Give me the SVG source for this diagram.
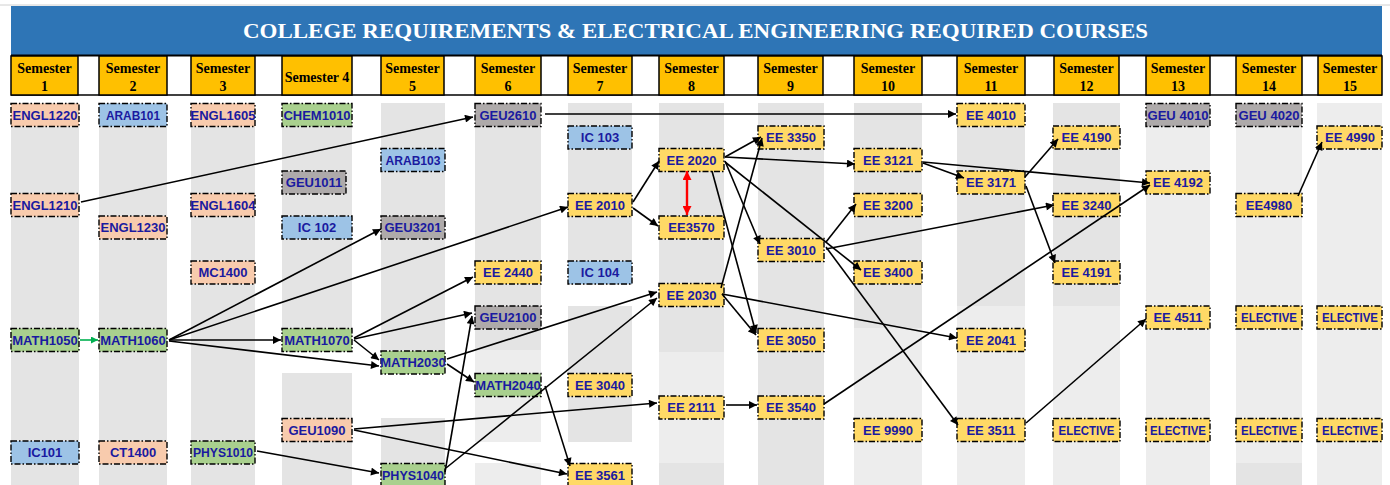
<svg xmlns="http://www.w3.org/2000/svg" width="1390" height="485" viewBox="0 0 1390 485">
<style>
.bg{fill:#ffffff}
.sd{fill:#E4E4E4}
.sl{fill:#EDEDED}
.hd{fill:#FFC000;stroke:#000;stroke-width:1.5}
.ht{font-family:"Liberation Serif",serif;font-weight:bold;font-size:14px;fill:#000;text-anchor:middle}
.b{stroke:#000;stroke-width:1.4;stroke-dasharray:6 2 1.5 2}
.pe{fill:#F8CBAD}.bl{fill:#9DC3E6}.gr{fill:#A9D08E}.gy{fill:#AEAAAA}.ye{fill:#FFD966}
.t{font-family:"Liberation Sans",Arial,sans-serif;font-weight:bold;font-size:13px;fill:#1A1AA0;text-anchor:middle}
.c{fill:none;stroke:#000;stroke-width:1.6;marker-end:url(#ah)}
</style>
<defs>
<marker id="ah" viewBox="0 0 10 10" refX="10" refY="5" markerWidth="9" markerHeight="8" markerUnits="userSpaceOnUse" orient="auto"><path d="M0,0L10,5L0,10z" fill="#000"/></marker>
<marker id="ahg" viewBox="0 0 10 10" refX="10" refY="5" markerWidth="8" markerHeight="7" markerUnits="userSpaceOnUse" orient="auto"><path d="M0,0L10,5L0,10z" fill="#00B050"/></marker>
<marker id="ahr" viewBox="0 0 10 10" refX="10" refY="5" markerWidth="9" markerHeight="9" markerUnits="userSpaceOnUse" orient="auto-start-reverse"><path d="M0,0L10,5L0,10z" fill="#FF0000"/></marker>
</defs>
<rect class="bg" x="0" y="0" width="1390" height="485"/>
<line x1="0" y1="5" x2="1390" y2="5" stroke="#D0D0D0" stroke-width="1"/>
<g id="title">
<rect x="11" y="6" width="1371" height="49" fill="#2E75B6"/>
<text x="695.5" y="38" font-family="Liberation Serif,serif" font-weight="bold" font-size="22" fill="#fff" text-anchor="middle" textLength="905" lengthAdjust="spacingAndGlyphs">COLLEGE REQUIREMENTS &amp; ELECTRICAL ENGINEERING REQUIRED COURSES</text>
</g>
<g id="stripes">
<rect class="sd" x="11" y="103" width="68" height="382"/>
<rect class="sd" x="99" y="103" width="68" height="382"/>
<rect class="sd" x="191" y="103" width="64" height="382"/>
<rect class="sd" x="282" y="103" width="70" height="249"/>
<rect class="sd" x="282" y="373" width="70" height="112"/>
<rect class="sd" x="381" y="103" width="64" height="270"/>
<rect class="sd" x="381" y="418" width="64" height="67"/>
<rect class="sd" x="475" y="103" width="66" height="247"/>
<rect class="sl" x="475" y="350" width="66" height="92"/>
<rect class="sl" x="475" y="463" width="66" height="22"/>
<rect class="sd" x="568" y="103" width="64" height="182"/>
<rect class="sd" x="568" y="306" width="64" height="136"/>
<rect class="sl" x="568" y="463" width="64" height="22"/>
<rect class="sd" x="659" y="103" width="65" height="249"/>
<rect class="sl" x="659" y="352" width="65" height="111"/>
<rect class="sd" x="659" y="463" width="65" height="22"/>
<rect class="sd" x="758" y="103" width="66" height="382"/>
<rect class="sd" x="854" y="103" width="68" height="225"/>
<rect class="sl" x="854" y="328" width="68" height="157"/>
<rect class="sd" x="957" y="103" width="68" height="203"/>
<rect class="sl" x="957" y="306" width="68" height="179"/>
<rect class="sd" x="1053" y="103" width="67" height="203"/>
<rect class="sl" x="1053" y="306" width="67" height="179"/>
<rect class="sl" x="1146" y="103" width="64" height="382"/>
<rect class="sl" x="1236" y="103" width="66" height="360"/>
<rect class="sd" x="1236" y="463" width="66" height="22"/>
<rect class="sl" x="1317" y="103" width="65" height="382"/>
</g>
<g id="header">
<line x1="11" y1="55.5" x2="1382" y2="55.5" stroke="#000" stroke-width="2"/>
<line x1="11" y1="95" x2="1382" y2="95" stroke="#000" stroke-width="1.5"/>
<rect class="hd" x="11" y="56" width="67" height="39"/><text class="ht" x="44.5" y="73">Semester</text><text class="ht" x="44.5" y="91">1</text>
<rect class="hd" x="99" y="56" width="68" height="39"/><text class="ht" x="133" y="73">Semester</text><text class="ht" x="133" y="91">2</text>
<rect class="hd" x="191" y="56" width="64" height="39"/><text class="ht" x="223" y="73">Semester</text><text class="ht" x="223" y="91">3</text>
<rect class="hd" x="282" y="56" width="70" height="39"/><text class="ht" x="317" y="82">Semester 4</text>
<rect class="hd" x="381" y="56" width="63" height="39"/><text class="ht" x="412.5" y="73">Semester</text><text class="ht" x="412.5" y="91">5</text>
<rect class="hd" x="475" y="56" width="66" height="39"/><text class="ht" x="508" y="73">Semester</text><text class="ht" x="508" y="91">6</text>
<rect class="hd" x="568" y="56" width="64" height="39"/><text class="ht" x="600" y="73">Semester</text><text class="ht" x="600" y="91">7</text>
<rect class="hd" x="659" y="56" width="65" height="39"/><text class="ht" x="691.5" y="73">Semester</text><text class="ht" x="691.5" y="91">8</text>
<rect class="hd" x="758" y="56" width="65" height="39"/><text class="ht" x="790.5" y="73">Semester</text><text class="ht" x="790.5" y="91">9</text>
<rect class="hd" x="854" y="56" width="68" height="39"/><text class="ht" x="888" y="73">Semester</text><text class="ht" x="888" y="91">10</text>
<rect class="hd" x="957" y="56" width="68" height="39"/><text class="ht" x="991" y="73">Semester</text><text class="ht" x="991" y="91">11</text>
<rect class="hd" x="1054" y="56" width="65" height="39"/><text class="ht" x="1086.5" y="73">Semester</text><text class="ht" x="1086.5" y="91">12</text>
<rect class="hd" x="1146" y="56" width="64" height="39"/><text class="ht" x="1178" y="73">Semester</text><text class="ht" x="1178" y="91">13</text>
<rect class="hd" x="1236" y="56" width="66" height="39"/><text class="ht" x="1269" y="73">Semester</text><text class="ht" x="1269" y="91">14</text>
<rect class="hd" x="1318" y="56" width="64" height="39"/><text class="ht" x="1350" y="73">Semester</text><text class="ht" x="1350" y="91">15</text>
</g>
<g id="nodes">
<g id="ENGL1220"><rect class="b pe" x="11" y="103.5" width="68" height="23"/><text class="t" x="45" y="119.5">ENGL1220</text></g>
<g id="ENGL1210"><rect class="b pe" x="11" y="193.5" width="68" height="23"/><text class="t" x="45" y="209.5">ENGL1210</text></g>
<g id="MATH1050"><rect class="b gr" x="11" y="328.5" width="68" height="23"/><text class="t" x="45" y="344.5">MATH1050</text></g>
<g id="IC101"><rect class="b bl" x="11" y="441" width="68" height="23"/><text class="t" x="45" y="457">IC101</text></g>

<g id="ARAB101"><rect class="b bl" x="99" y="103.5" width="68" height="23"/><text class="t" x="133" y="119.5" textLength="54" lengthAdjust="spacingAndGlyphs">ARAB101</text></g>
<g id="ENGL1230"><rect class="b pe" x="99" y="216" width="68" height="23"/><text class="t" x="133" y="232">ENGL1230</text></g>
<g id="MATH1060"><rect class="b gr" x="99" y="328.5" width="68" height="23"/><text class="t" x="133" y="344.5">MATH1060</text></g>
<g id="CT1400"><rect class="b pe" x="99" y="441" width="68" height="23"/><text class="t" x="133" y="457">CT1400</text></g>

<g id="ENGL1605"><rect class="b pe" x="191" y="103.5" width="64" height="23"/><text class="t" x="223" y="119.5">ENGL1605</text></g>
<g id="ENGL1604"><rect class="b pe" x="191" y="193.5" width="64" height="23"/><text class="t" x="223" y="209.5">ENGL1604</text></g>
<g id="MC1400"><rect class="b pe" x="191" y="261" width="64" height="23"/><text class="t" x="223" y="277">MC1400</text></g>
<g id="PHYS1010"><rect class="b gr" x="191" y="441" width="64" height="23"/><text class="t" x="223" y="457" textLength="60" lengthAdjust="spacingAndGlyphs">PHYS1010</text></g>

<g id="CHEM1010"><rect class="b gr" x="282" y="103.5" width="70" height="23"/><text class="t" x="317" y="119.5">CHEM1010</text></g>
<g id="GEU1011"><rect class="b gy" x="282" y="171" width="64" height="23"/><text class="t" x="314" y="187">GEU1011</text></g>
<g id="IC102"><rect class="b bl" x="282" y="216" width="70" height="23"/><text class="t" x="317" y="232">IC 102</text></g>
<g id="MATH1070"><rect class="b gr" x="282" y="328.5" width="70" height="23"/><text class="t" x="317" y="344.5">MATH1070</text></g>
<g id="GEU1090"><rect class="b pe" x="282" y="418.5" width="70" height="23"/><text class="t" x="317" y="434.5">GEU1090</text></g>

<g id="ARAB103"><rect class="b bl" x="381" y="148.5" width="64" height="23"/><text class="t" x="413" y="164.5" textLength="55" lengthAdjust="spacingAndGlyphs">ARAB103</text></g>
<g id="GEU3201"><rect class="b gy" x="381" y="216" width="64" height="23"/><text class="t" x="413" y="232">GEU3201</text></g>
<g id="MATH2030"><rect class="b gr" x="381" y="351" width="64" height="23"/><text class="t" x="413" y="367">MATH2030</text></g>
<g id="PHYS1040"><rect class="b gr" x="381" y="463.5" width="64" height="23"/><text class="t" x="413" y="479.5" textLength="62" lengthAdjust="spacingAndGlyphs">PHYS1040</text></g>

<g id="GEU2610"><rect class="b gy" x="475" y="103.5" width="66" height="23"/><text class="t" x="508" y="119.5">GEU2610</text></g>
<g id="EE2440"><rect class="b ye" x="475" y="261" width="66" height="23"/><text class="t" x="508" y="277">EE 2440</text></g>
<g id="GEU2100"><rect class="b gy" x="475" y="306" width="66" height="23"/><text class="t" x="508" y="322">GEU2100</text></g>
<g id="MATH2040"><rect class="b gr" x="475" y="373.5" width="66" height="23"/><text class="t" x="508" y="389.5">MATH2040</text></g>

<g id="IC103"><rect class="b bl" x="568" y="126" width="64" height="23"/><text class="t" x="600" y="142">IC 103</text></g>
<g id="EE2010"><rect class="b ye" x="568" y="193.5" width="64" height="23"/><text class="t" x="600" y="209.5">EE 2010</text></g>
<g id="IC104"><rect class="b bl" x="568" y="261" width="64" height="23"/><text class="t" x="600" y="277">IC 104</text></g>
<g id="EE3040"><rect class="b ye" x="568" y="373.5" width="64" height="23"/><text class="t" x="600" y="389.5">EE 3040</text></g>
<g id="EE3561"><rect class="b ye" x="568" y="463.5" width="64" height="23"/><text class="t" x="600" y="479.5">EE 3561</text></g>

<g id="EE2020"><rect class="b ye" x="659" y="148.5" width="65" height="23"/><text class="t" x="691.5" y="164.5">EE 2020</text></g>
<g id="EE3570"><rect class="b ye" x="659" y="216" width="65" height="23"/><text class="t" x="691.5" y="232">EE3570</text></g>
<g id="EE2030"><rect class="b ye" x="659" y="283.5" width="65" height="23"/><text class="t" x="691.5" y="299.5">EE 2030</text></g>
<g id="EE2111"><rect class="b ye" x="659" y="396" width="65" height="23"/><text class="t" x="691.5" y="412">EE 2111</text></g>

<g id="EE3350"><rect class="b ye" x="758" y="126" width="66" height="23"/><text class="t" x="791" y="142">EE 3350</text></g>
<g id="EE3010"><rect class="b ye" x="758" y="238.5" width="66" height="23"/><text class="t" x="791" y="254.5">EE 3010</text></g>
<g id="EE3050"><rect class="b ye" x="758" y="328.5" width="66" height="23"/><text class="t" x="791" y="344.5">EE 3050</text></g>
<g id="EE3540"><rect class="b ye" x="758" y="396" width="66" height="23"/><text class="t" x="791" y="412">EE 3540</text></g>

<g id="EE3121"><rect class="b ye" x="854" y="148.5" width="68" height="23"/><text class="t" x="888" y="164.5">EE 3121</text></g>
<g id="EE3200"><rect class="b ye" x="854" y="193.5" width="68" height="23"/><text class="t" x="888" y="209.5">EE 3200</text></g>
<g id="EE3400"><rect class="b ye" x="854" y="261" width="68" height="23"/><text class="t" x="888" y="277">EE 3400</text></g>
<g id="EE9990"><rect class="b ye" x="854" y="418.5" width="68" height="23"/><text class="t" x="888" y="434.5">EE 9990</text></g>

<g id="EE4010"><rect class="b ye" x="957" y="103.5" width="68" height="23"/><text class="t" x="991" y="119.5">EE 4010</text></g>
<g id="EE3171"><rect class="b ye" x="957" y="171" width="68" height="23"/><text class="t" x="991" y="187">EE 3171</text></g>
<g id="EE2041"><rect class="b ye" x="957" y="328.5" width="68" height="23"/><text class="t" x="991" y="344.5">EE 2041</text></g>
<g id="EE3511"><rect class="b ye" x="957" y="418.5" width="68" height="23"/><text class="t" x="991" y="434.5">EE 3511</text></g>

<g id="EE4190"><rect class="b ye" x="1053" y="126" width="67" height="23"/><text class="t" x="1086.5" y="142">EE 4190</text></g>
<g id="EE3240"><rect class="b ye" x="1053" y="193.5" width="67" height="23"/><text class="t" x="1086.5" y="209.5">EE 3240</text></g>
<g id="EE4191"><rect class="b ye" x="1053" y="261" width="67" height="23"/><text class="t" x="1086.5" y="277">EE 4191</text></g>
<g id="ELECTIVE12"><rect class="b ye" x="1053" y="418.5" width="67" height="23"/><text class="t" x="1086.5" y="434.5" textLength="56" lengthAdjust="spacingAndGlyphs">ELECTIVE</text></g>

<g id="GEU4010"><rect class="b gy" x="1146" y="103.5" width="64" height="23"/><text class="t" x="1178" y="119.5" textLength="61" lengthAdjust="spacingAndGlyphs">GEU 4010</text></g>
<g id="EE4192"><rect class="b ye" x="1146" y="171" width="64" height="23"/><text class="t" x="1178" y="187">EE 4192</text></g>
<g id="EE4511"><rect class="b ye" x="1146" y="306" width="64" height="23"/><text class="t" x="1178" y="322">EE 4511</text></g>
<g id="ELECTIVE13"><rect class="b ye" x="1146" y="418.5" width="64" height="23"/><text class="t" x="1178" y="434.5" textLength="56" lengthAdjust="spacingAndGlyphs">ELECTIVE</text></g>

<g id="GEU4020"><rect class="b gy" x="1236" y="103.5" width="66" height="23"/><text class="t" x="1269" y="119.5" textLength="61" lengthAdjust="spacingAndGlyphs">GEU 4020</text></g>
<g id="EE4980"><rect class="b ye" x="1236" y="193.5" width="66" height="23"/><text class="t" x="1269" y="209.5">EE4980</text></g>
<g id="ELECTIVE14a"><rect class="b ye" x="1236" y="306" width="66" height="23"/><text class="t" x="1269" y="322" textLength="56" lengthAdjust="spacingAndGlyphs">ELECTIVE</text></g>
<g id="ELECTIVE14b"><rect class="b ye" x="1236" y="418.5" width="66" height="23"/><text class="t" x="1269" y="434.5" textLength="56" lengthAdjust="spacingAndGlyphs">ELECTIVE</text></g>

<g id="EE4990"><rect class="b ye" x="1317" y="126" width="65" height="23"/><text class="t" x="1350" y="142">EE 4990</text></g>
<g id="ELECTIVE15a"><rect class="b ye" x="1317" y="306" width="65" height="23"/><text class="t" x="1350" y="322" textLength="56" lengthAdjust="spacingAndGlyphs">ELECTIVE</text></g>
<g id="ELECTIVE15b"><rect class="b ye" x="1317" y="418.5" width="65" height="23"/><text class="t" x="1350" y="434.5" textLength="56" lengthAdjust="spacingAndGlyphs">ELECTIVE</text></g>
</g>
<g id="connectors">
<path class="c" d="M81,202L473,117"/>
<path class="c" d="M545,114L956,114"/>
<path d="M80,340L98,340" fill="none" stroke="#00B050" stroke-width="1.6" marker-end="url(#ahg)"/>
<path class="c" d="M169,340L281,340"/>
<path class="c" d="M169,340L381,229"/>
<path class="c" d="M169,340L568,207"/>
<path class="c" d="M169,341L379,366"/>
<path class="c" d="M354,339L472,313"/>
<path class="c" d="M354,340L379,360"/>
<path class="c" d="M354,338L473,277"/>
<path class="c" d="M447,359L657,292"/>
<path class="c" d="M447,364L474,382"/>
<path class="c" d="M545,386L570,466"/>
<path class="c" d="M354,429L657,403"/>
<path class="c" d="M354,430L567,474"/>
<path class="c" d="M257,451L379,473"/>
<path class="c" d="M445,472L472,316"/>
<path class="c" d="M446,468L657,298"/>
<path class="c" d="M633,202L659,161"/>
<path class="c" d="M633,208L658,226"/>
<path d="M687,171L687,215" fill="none" stroke="#FF0000" stroke-width="2.4" marker-start="url(#ahr)" marker-end="url(#ahr)"/>
<path class="c" d="M725,157L761,137"/>
<path class="c" d="M725,157L855,164"/>
<path class="c" d="M725,161L760,244"/>
<path class="c" d="M725,162L861,270"/>
<path class="c" d="M712,171L756,333"/>
<path class="c" d="M721,288L762,138"/>
<path class="c" d="M722,294L756,335"/>
<path class="c" d="M722,294L957,338"/>
<path class="c" d="M726,405L757,405"/>
<path class="c" d="M824,404L1150,185"/>
<path class="c" d="M923,162L1150,183"/>
<path class="c" d="M923,163L964,178"/>
<path class="c" d="M1025,177L1058,139"/>
<path class="c" d="M1026,186L1055,263"/>
<path class="c" d="M826,242L856,204"/>
<path class="c" d="M826,249L1054,205"/>
<path class="c" d="M826,247L958,425"/>
<path class="c" d="M1026,423L1146,319"/>
<path class="c" d="M1298,196L1322,142"/>
</g>
</svg>
